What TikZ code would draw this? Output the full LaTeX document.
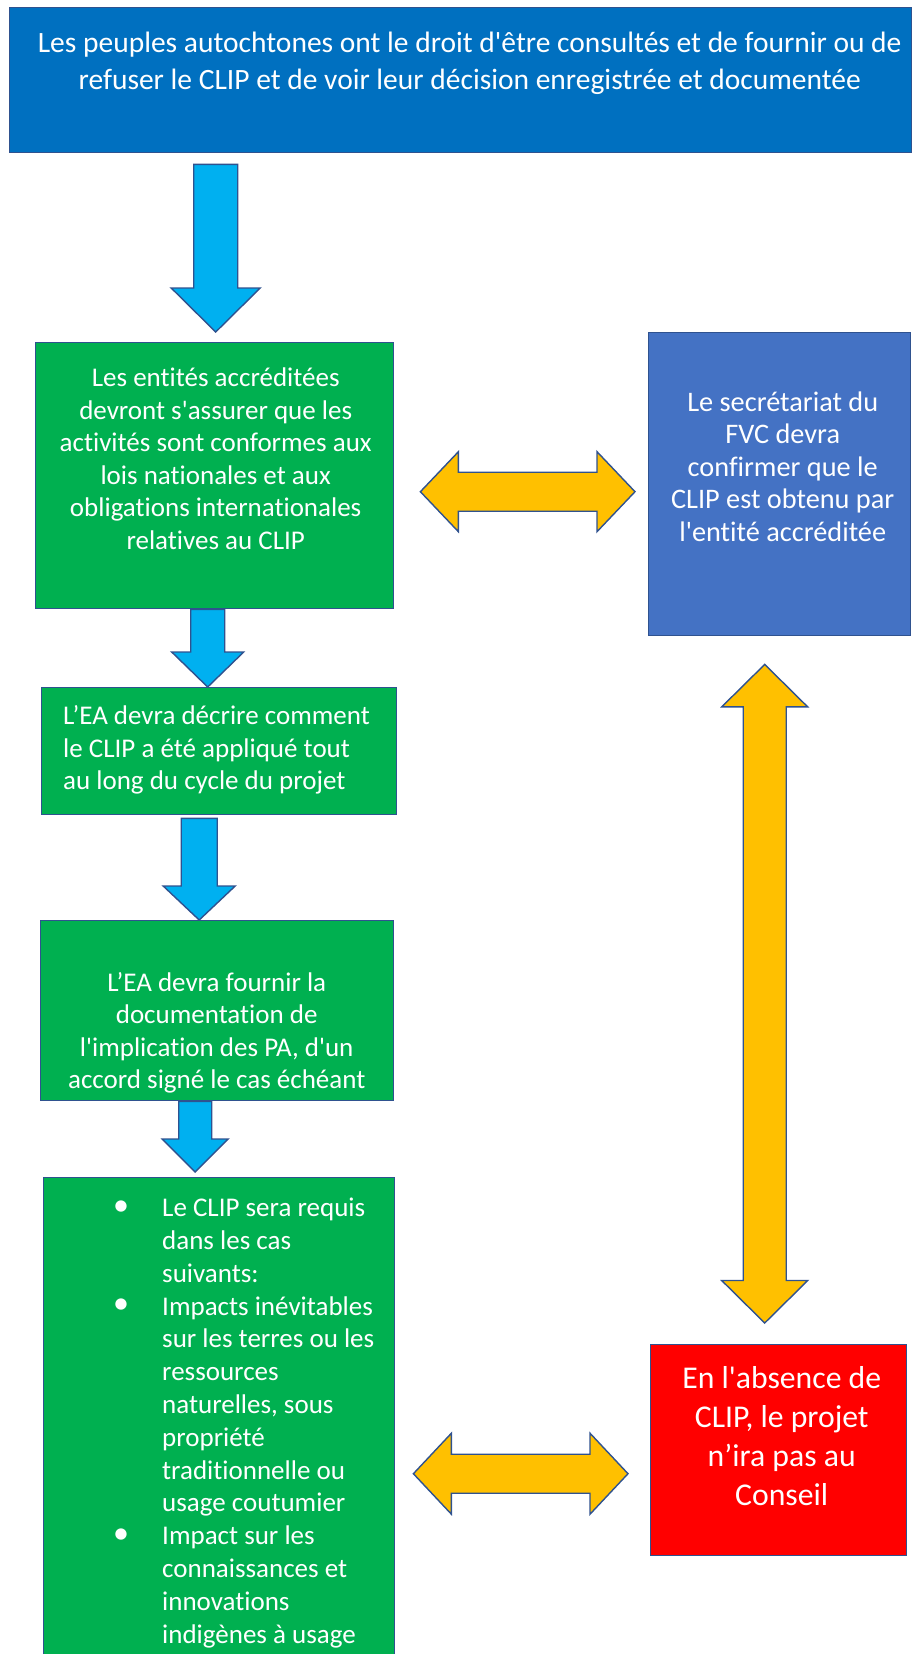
\documentclass[tikz,border=0pt]{standalone}
\usepackage{fontspec}
\setmainfont{Carlito}[Ligatures={TeXOff,CommonOff}]
\usetikzlibrary{positioning,calc}

\definecolor{bleufonce}{HTML}{0070C0}
\definecolor{bleuboite}{HTML}{4472C4}
\definecolor{vertboite}{HTML}{00B050}
\definecolor{rougeboite}{HTML}{FF0000}
\definecolor{bleuclair}{HTML}{00B0F0}
\definecolor{jaune}{HTML}{FFC000}
\definecolor{bord}{HTML}{2F528F}

\tikzset{
  boite/.style={draw=bord, line width=1.4pt, inner sep=0pt, anchor=north west},
  texte/.style={text=white, align=center, inner sep=0pt},
  fleche/.style={draw=bord, line width=1.4pt, line join=miter},
}

% fleches pleines
\newcommand{\flechebas}[6]{% depart, pointe, tige, tete, longueur tete, couleur
  \draw[fleche, fill=#6] ($(#1)+(-#3,0)$) -- ($(#1)+(#3,0)$) -- ($(#2)+(#3,-#5)$) -- ($(#2)+(#4,-#5)$) -- (#2) -- ($(#2)+(-#4,-#5)$) -- ($(#2)+(-#3,-#5)$) -- cycle;}
\newcommand{\flechehd}[5]{% pointe gauche, pointe droite, tige, tete, longueur tete
  \draw[fleche, fill=jaune] (#1) -- ($(#1)+(#5,-#4)$) -- ($(#1)+(#5,-#3)$) -- ($(#2)+(-#5,-#3)$) -- ($(#2)+(-#5,-#4)$) -- (#2) -- ($(#2)+(-#5,#4)$) -- ($(#2)+(-#5,#3)$) -- ($(#1)+(#5,#3)$) -- ($(#1)+(#5,#4)$) -- cycle;}
\newcommand{\flechevd}[5]{% pointe haute, pointe basse, tige, tete, longueur tete
  \draw[fleche, fill=jaune] (#1) -- ($(#1)+(#4,#5)$) -- ($(#1)+(#3,#5)$) -- ($(#2)+(#3,-#5)$) -- ($(#2)+(#4,-#5)$) -- (#2) -- ($(#2)+(-#4,-#5)$) -- ($(#2)+(-#3,-#5)$) -- ($(#1)+(-#3,#5)$) -- ($(#1)+(-#4,#5)$) -- cycle;}

\begin{document}
\begin{tikzpicture}[x=1pt,y=-1pt]
    \path[use as bounding box, clip] (0,0) rectangle (918,1654);
    % boites
    \node[boite, fill=bleufonce, minimum width=902, minimum height=145] (haut) at (9,7) {};
    \node[boite, fill=vertboite, minimum width=358, minimum height=266] (vert1) at (35,342) {};
    \node[boite, fill=bleuboite, minimum width=262, minimum height=303] (bleu) at (648,332) {};
    \node[boite, fill=vertboite, minimum width=355, minimum height=127] (vert2) at (41,687) {};
    \node[boite, fill=vertboite, minimum width=353, minimum height=180] (vert3) at (40,920) {};
    \node[boite, fill=vertboite, minimum width=351, minimum height=500] (vert4) at (43,1177) {};
    \node[boite, fill=rougeboite, minimum width=256, minimum height=211] (rouge) at (650,1344) {};

    % textes
    \node[texte, font=\fontsize{29.5}{37}\selectfont] (haut-t) at ($(haut.center)+(9,-17)$)
        {Les peuples autochtones ont le droit d'être consultés et de fournir ou de\\refuser le CLIP et de voir leur décision enregistrée et documentée};
    \node[texte, font=\fontsize{27}{32.5}\selectfont] (vert1-t) at ($(vert1.center)+(1,-17)$)
        {Les entités accréditées\\devront s'assurer que les\\activités sont conformes aux\\lois nationales et aux\\obligations internationales\\relatives au CLIP};
    \node[texte, font=\fontsize{28.3}{32.5}\selectfont] (bleu-t) at ($(bleu.center)+(3,-17.5)$)
        {Le secrétariat du\\FVC devra\\confirmer que le\\CLIP est obtenu par\\l'entité accréditée};
    \node[texte, align=left, anchor=west, font=\fontsize{27}{32.5}\selectfont] (vert2-t) at ($(vert2.west)+(22,-1)$)
        {L’EA devra décrire comment\\le CLIP a été appliqué tout\\au long du cycle du projet};
    \begin{scope}
        \clip (vert3.north west) rectangle (vert3.south east);
        \node[texte, font=\fontsize{27}{32.5}\selectfont] (vert3-t) at ($(vert3.center)+(-0.5,22)$)
            {L’EA devra fournir la\\documentation de\\l'implication des PA, d'un\\accord signé le cas échéant};
    \end{scope}
    \node[texte, align=left, anchor=north west, font=\fontsize{27}{32.8}\selectfont] (vert4-t) at ($(vert4.north west)+(119,21)$)
        {Le CLIP sera requis\\dans les cas\\suivants:\\Impacts inévitables\\sur les terres ou les\\ressources\\naturelles, sous\\propriété\\traditionnelle ou\\usage coutumier\\Impact sur les\\connaissances et\\innovations\\indigènes à usage};
    \foreach \i in {0,3,10}
        \node[texte, font=\fontsize{32}{32}\selectfont] (puce-\i) at ($(vert4.north west)+(78,{31+32.8*\i})$) {\textbullet};
    \node[texte, font=\fontsize{31.7}{39}\selectfont] (rouge-t) at ($(rouge.center)+(3,-14.5)$)
        {En l'absence de\\CLIP, le projet\\n’ira pas au\\Conseil};

    % fleches vers le bas
    \coordinate (f1b) at ($(vert1.north)+(1,-10)$);
    \coordinate (f1a) at ($(f1b |- haut.south)+(0,11)$);
    \flechebas{f1a}{f1b}{22}{44.5}{44}{bleuclair}
    \coordinate (f2a) at ($(vert1.south)+(-7,0)$);
    \coordinate (f2b) at (f2a |- vert2.north);
    \flechebas{f2a}{f2b}{17}{36}{35}{bleuclair}
    \coordinate (f3a) at ($(vert2.south)+(-20,3)$);
    \coordinate (f3b) at (f3a |- vert3.north);
    \flechebas{f3a}{f3b}{18}{36}{34}{bleuclair}
    \coordinate (f4a) at ($(vert3.south)+(-22,0)$);
    \coordinate (f4b) at ($(f4a |- vert4.north)+(0,-5)$);
    \flechebas{f4a}{f4b}{16.5}{33}{33}{bleuclair}

    % fleches doubles
    \coordinate (d1a) at ($(vert1.east)+(26,16)$);
    \coordinate (d1b) at ($(d1a -| bleu.west)+(-13,0)$);
    \flechehd{d1a}{d1b}{19.5}{40}{38}
    \coordinate (d2a) at ($(bleu.south)+(-15,28)$);
    \coordinate (d2b) at ($(d2a |- rouge.north)+(0,-21)$);
    \flechevd{d2a}{d2b}{21.5}{43}{42.5}
    \coordinate (d3b) at ($(rouge.west)+(-22,23.5)$);
    \coordinate (d3a) at ($(d3b -| vert4.east)+(18,0)$);
    \flechehd{d3a}{d3b}{19.5}{40.5}{38}
\end{tikzpicture}
\end{document}
